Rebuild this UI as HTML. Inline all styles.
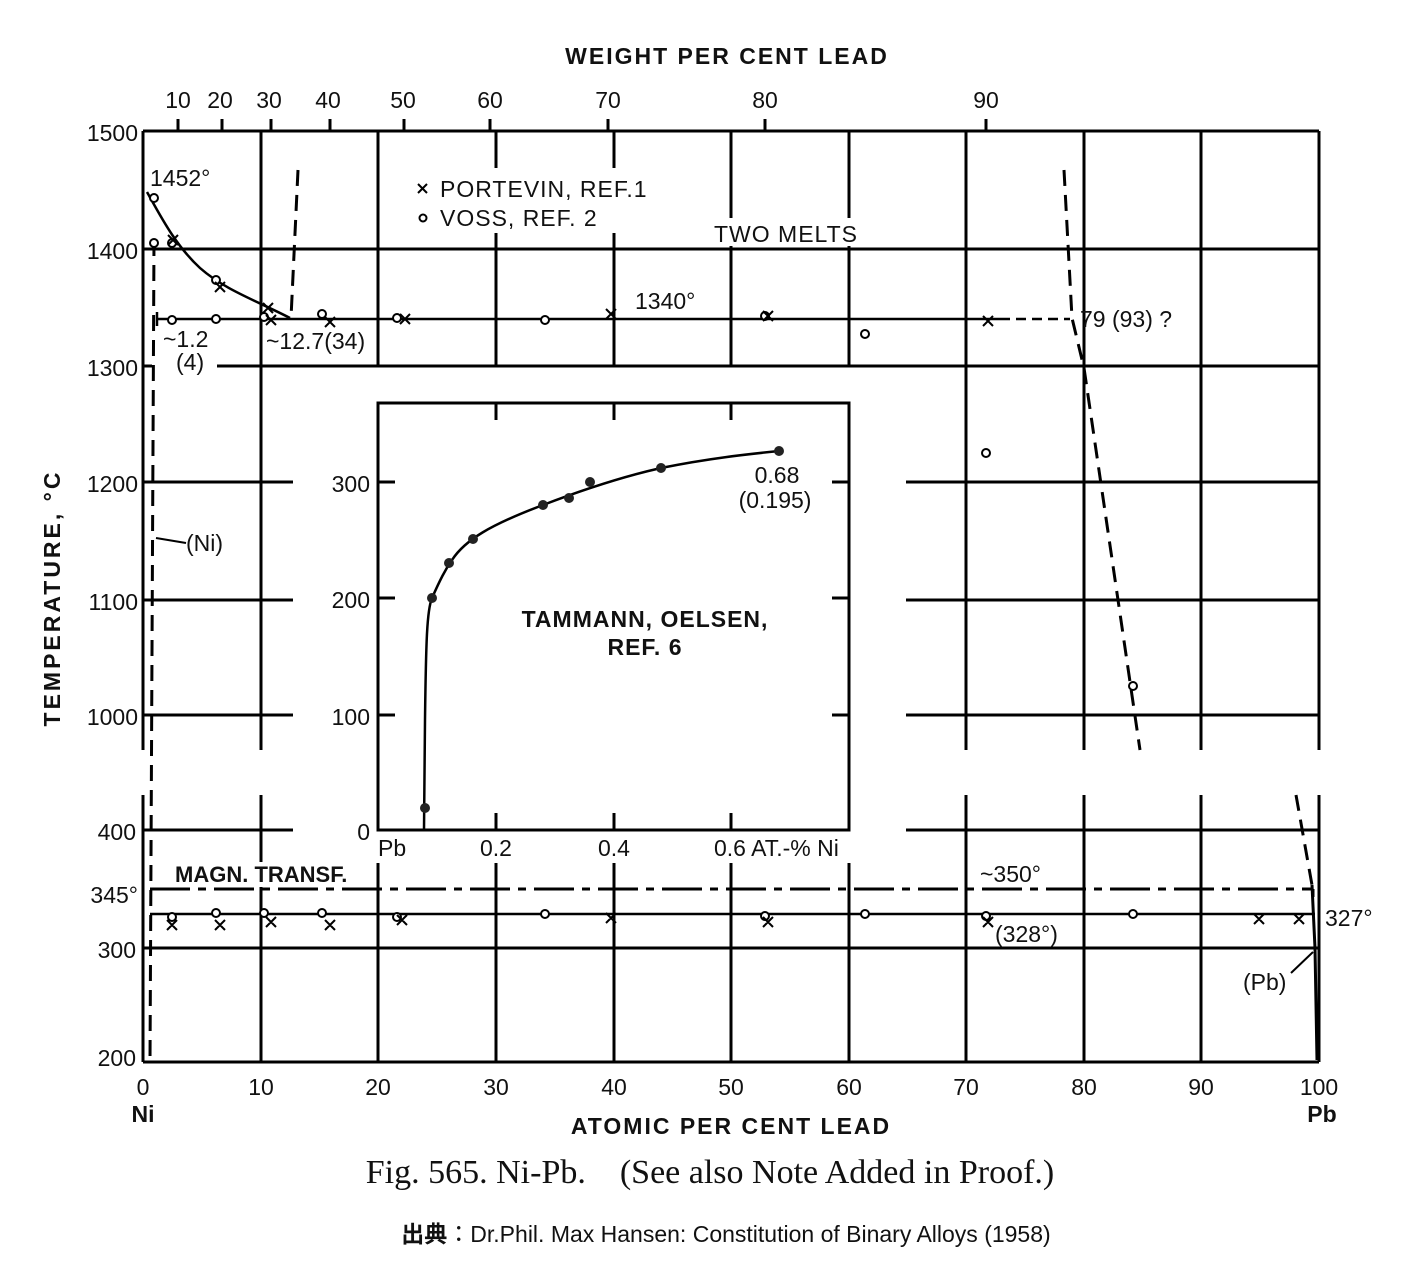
<!DOCTYPE html>
<html><head><meta charset="utf-8"><style>
html,body{margin:0;padding:0;background:#fff;}
svg{display:block;}
text{font-family:"Liberation Sans","DejaVu Sans",sans-serif;fill:#111;}
</style></head><body>
<svg width="1412" height="1282" viewBox="0 0 1412 1282" xmlns="http://www.w3.org/2000/svg">
<rect width="1412" height="1282" fill="#fff"/>
<g stroke="#000" stroke-width="3" fill="none">
<line x1="143" y1="131" x2="1319" y2="131"/>
<line x1="143" y1="249" x2="1319" y2="249"/>
<line x1="143" y1="366" x2="1319" y2="366"/>
<line x1="143" y1="482" x2="293" y2="482"/><line x1="906" y1="482" x2="1319" y2="482"/>
<line x1="143" y1="600" x2="293" y2="600"/><line x1="906" y1="600" x2="1319" y2="600"/>
<line x1="143" y1="715" x2="293" y2="715"/><line x1="906" y1="715" x2="1319" y2="715"/>
<line x1="143" y1="131" x2="143" y2="750"/>
<line x1="261" y1="131" x2="261" y2="750"/>
<line x1="378" y1="131" x2="378" y2="366"/>
<line x1="496" y1="131" x2="496" y2="366"/>
<line x1="614" y1="131" x2="614" y2="366"/>
<line x1="731" y1="131" x2="731" y2="366"/>
<line x1="849" y1="131" x2="849" y2="366"/>
<line x1="966" y1="131" x2="966" y2="750"/>
<line x1="1084" y1="131" x2="1084" y2="750"/>
<line x1="1201" y1="131" x2="1201" y2="750"/>
<line x1="1319" y1="131" x2="1319" y2="750"/>
<line x1="178" y1="119" x2="178" y2="131"/><line x1="222" y1="119" x2="222" y2="131"/>
<line x1="271" y1="119" x2="271" y2="131"/><line x1="330" y1="119" x2="330" y2="131"/>
<line x1="404" y1="119" x2="404" y2="131"/><line x1="490" y1="119" x2="490" y2="131"/>
<line x1="608" y1="119" x2="608" y2="131"/><line x1="765" y1="119" x2="765" y2="131"/>
<line x1="986" y1="119" x2="986" y2="131"/>
<line x1="143" y1="830" x2="293" y2="830"/><line x1="906" y1="830" x2="1319" y2="830"/>
<line x1="143" y1="948" x2="1319" y2="948"/>
<line x1="143" y1="1062" x2="1319" y2="1062"/>
<line x1="143" y1="795" x2="143" y2="1062"/>
<line x1="261" y1="795" x2="261" y2="1062"/>
<line x1="378" y1="863" x2="378" y2="1062"/>
<line x1="496" y1="863" x2="496" y2="1062"/>
<line x1="614" y1="863" x2="614" y2="1062"/>
<line x1="731" y1="863" x2="731" y2="1062"/>
<line x1="849" y1="863" x2="849" y2="1062"/>
<line x1="966" y1="795" x2="966" y2="1062"/>
<line x1="1084" y1="795" x2="1084" y2="1062"/>
<line x1="1201" y1="795" x2="1201" y2="1062"/>
<line x1="1319" y1="795" x2="1319" y2="1062"/>
</g>
<rect x="405" y="168" width="260" height="65" fill="#fff"/>
<rect x="708" y="218" width="160" height="28" fill="#fff"/>
<rect x="168" y="862" width="180" height="25" fill="#fff"/>
<rect x="152" y="352" width="65" height="24" fill="#fff"/>
<g stroke="#000" stroke-width="2.5" fill="none">
<path d="M147,192 C160,215 175,245 200,268 C225,290 255,300 290,318"/>
<line x1="157" y1="319" x2="1000" y2="319"/>
<line x1="1000" y1="319" x2="1070" y2="319" stroke-dasharray="10,6"/>
<line x1="157" y1="312" x2="157" y2="326"/>
</g>
<g stroke="#000" stroke-width="3" fill="none" stroke-dasharray="16,9">
<line x1="154" y1="240" x2="150" y2="1062"/>
<line x1="298" y1="170" x2="291" y2="318"/>
<polyline points="1064,170 1072,318 1084,368 1140,750"/>
<polyline points="1296,795 1312,885"/>
</g>
<path d="M1312,885 L1315,948 L1317,1060" stroke="#000" stroke-width="3" fill="none"/>
<line x1="150" y1="889" x2="1313" y2="889" stroke="#000" stroke-width="3" stroke-dasharray="40,8,8,8"/>
<line x1="1313" y1="889" x2="1313" y2="897" stroke="#000" stroke-width="3"/>
<line x1="150" y1="914" x2="1315" y2="914" stroke="#000" stroke-width="2.5"/>
<g stroke="#000" stroke-width="2" fill="#fff">
<circle cx="154" cy="198" r="4"/><circle cx="154" cy="243" r="4"/><circle cx="172" cy="243" r="4"/>
<circle cx="216" cy="280" r="4"/><circle cx="264" cy="317" r="4"/><circle cx="322" cy="314" r="4"/>
<circle cx="172" cy="320" r="4"/><circle cx="216" cy="319" r="4"/><circle cx="397" cy="318" r="4"/>
<circle cx="545" cy="320" r="4"/><circle cx="765" cy="316" r="4"/><circle cx="865" cy="334" r="4"/>
<circle cx="986" cy="453" r="4"/><circle cx="1133" cy="686" r="4"/>
<circle cx="172" cy="917" r="4"/><circle cx="216" cy="913" r="4"/><circle cx="264" cy="913" r="4"/>
<circle cx="322" cy="913" r="4"/><circle cx="397" cy="917" r="4"/><circle cx="545" cy="914" r="4"/>
<circle cx="765" cy="916" r="4"/><circle cx="865" cy="914" r="4"/><circle cx="986" cy="916" r="4"/><circle cx="1133" cy="914" r="4"/>
<circle cx="423" cy="218" r="3.5"/>
</g>
<g stroke="#000" stroke-width="2">
<path d="M168,235l10,10M178,235l-10,10 M215,282l10,10M225,282l-10,10 M263,303l10,10M273,303l-10,10 M266,315l10,10M276,315l-10,10 M325,317l10,10M335,317l-10,10 M400,314l10,10M410,314l-10,10 M606,309l10,10M616,309l-10,10 M763,311l10,10M773,311l-10,10 M983,316l10,10M993,316l-10,10 M167,920l10,10M177,920l-10,10 M215,920l10,10M225,920l-10,10 M266,917l10,10M276,917l-10,10 M325,920l10,10M335,920l-10,10 M397,915l10,10M407,915l-10,10 M606,913l10,10M616,913l-10,10 M763,917l10,10M773,917l-10,10 M983,917l10,10M993,917l-10,10 M1254,914l10,10M1264,914l-10,10 M1294,914l10,10M1304,914l-10,10 M418,184l9,9M427,184l-9,9"/>
</g>
<path d="M186,543 L156,538" stroke="#000" stroke-width="2"/>
<path d="M1291,973 L1313,952" stroke="#000" stroke-width="2"/>
<rect x="293" y="375" width="613" height="487" fill="#fff"/>
<line x1="261" y1="375" x2="261" y2="750" stroke="#000" stroke-width="3"/>
<line x1="966" y1="375" x2="966" y2="750" stroke="#000" stroke-width="3"/>
<rect x="378" y="403" width="471" height="427" fill="#fff" stroke="#000" stroke-width="3"/>
<g stroke="#000" stroke-width="3">
<line x1="496" y1="403" x2="496" y2="420"/><line x1="614" y1="403" x2="614" y2="420"/><line x1="731" y1="403" x2="731" y2="420"/>
<line x1="496" y1="813" x2="496" y2="830"/><line x1="614" y1="813" x2="614" y2="830"/><line x1="731" y1="813" x2="731" y2="830"/>
<line x1="378" y1="482" x2="395" y2="482"/><line x1="378" y1="598" x2="395" y2="598"/><line x1="378" y1="715" x2="395" y2="715"/>
<line x1="832" y1="482" x2="849" y2="482"/><line x1="832" y1="598" x2="849" y2="598"/><line x1="832" y1="715" x2="849" y2="715"/>
</g>
<path d="M424,830 L425,720 C426,640 427,610 432,598 C440,580 445,570 452,560 C465,540 490,525 543,505 C590,487 630,475 661,468 C710,458 750,454 779,451" stroke="#000" stroke-width="2.5" fill="none"/>
<g fill="#222">
<circle cx="425" cy="808" r="5"/><circle cx="432" cy="598" r="5"/><circle cx="449" cy="563" r="5"/>
<circle cx="473" cy="539" r="5"/><circle cx="543" cy="505" r="5"/><circle cx="569" cy="498" r="5"/>
<circle cx="590" cy="482" r="5"/><circle cx="661" cy="468" r="5"/><circle cx="779" cy="451" r="5"/>
</g>
<g font-size="23">
<text x="727" y="64" text-anchor="middle" font-weight="bold" letter-spacing="2">WEIGHT PER CENT LEAD</text>
<text x="178" y="108" text-anchor="middle">10</text><text x="220" y="108" text-anchor="middle">20</text>
<text x="269" y="108" text-anchor="middle">30</text><text x="328" y="108" text-anchor="middle">40</text>
<text x="403" y="108" text-anchor="middle">50</text><text x="490" y="108" text-anchor="middle">60</text>
<text x="608" y="108" text-anchor="middle">70</text><text x="765" y="108" text-anchor="middle">80</text>
<text x="986" y="108" text-anchor="middle">90</text>
<g text-anchor="end">
<text x="138" y="141">1500</text><text x="138" y="259">1400</text><text x="138" y="376">1300</text>
<text x="138" y="492">1200</text><text x="138" y="610">1100</text><text x="138" y="725">1000</text>
<text x="136" y="840">400</text><text x="138" y="903">345°</text><text x="136" y="958">300</text><text x="136" y="1066">200</text>
<text x="370" y="492">300</text><text x="370" y="608">200</text><text x="370" y="725">100</text><text x="370" y="840">0</text>
</g>
<text x="143" y="1095" text-anchor="middle">0</text><text x="261" y="1095" text-anchor="middle">10</text>
<text x="378" y="1095" text-anchor="middle">20</text><text x="496" y="1095" text-anchor="middle">30</text>
<text x="614" y="1095" text-anchor="middle">40</text><text x="731" y="1095" text-anchor="middle">50</text>
<text x="849" y="1095" text-anchor="middle">60</text><text x="966" y="1095" text-anchor="middle">70</text>
<text x="1084" y="1095" text-anchor="middle">80</text><text x="1201" y="1095" text-anchor="middle">90</text>
<text x="1319" y="1095" text-anchor="middle">100</text>
<text x="143" y="1122" text-anchor="middle" font-weight="bold">Ni</text>
<text x="1322" y="1122" text-anchor="middle" font-weight="bold">Pb</text>
<text x="731" y="1134" text-anchor="middle" font-weight="bold" letter-spacing="2">ATOMIC PER CENT LEAD</text>
<text x="60" y="598" text-anchor="middle" font-weight="bold" letter-spacing="3" transform="rotate(-90 60 598)">TEMPERATURE, °C</text>
<text x="150" y="186">1452°</text>
<text x="440" y="197" letter-spacing="1">PORTEVIN, REF.1</text>
<text x="440" y="226" letter-spacing="1">VOSS,  REF. 2</text>
<text x="714" y="242" letter-spacing="1">TWO MELTS</text>
<text x="635" y="309">1340°</text>
<text x="163" y="347">~1.2</text>
<text x="176" y="370">(4)</text>
<text x="266" y="349">~12.7(34)</text>
<text x="1080" y="327">79 (93)  ?</text>
<text x="186" y="551">(Ni)</text>
<text x="175" y="882" font-weight="bold" font-size="22">MAGN. TRANSF.</text>
<text x="980" y="882">~350°</text>
<text x="995" y="942">(328°)</text>
<text x="1325" y="926">327°</text>
<text x="1243" y="990">(Pb)</text>
<text x="378" y="856">Pb</text><text x="496" y="856" text-anchor="middle">0.2</text>
<text x="614" y="856" text-anchor="middle">0.4</text><text x="714" y="856">0.6 AT.-% Ni</text>
<text x="645" y="627" text-anchor="middle" font-weight="bold" letter-spacing="1">TAMMANN, OELSEN,</text>
<text x="645" y="655" text-anchor="middle" font-weight="bold" letter-spacing="1">REF. 6</text>
<text x="777" y="483" text-anchor="middle">0.68</text>
<text x="775" y="508" text-anchor="middle">(0.195)</text>
</g>
<text x="710" y="1183" text-anchor="middle" font-size="34" style="font-family:'Liberation Serif',serif">Fig. 565. Ni-Pb. &#160;&#160;&#160;(See also Note Added in Proof.)</text>
<text x="726" y="1242" text-anchor="middle" font-size="23" style="font-family:'Liberation Sans','Noto Sans CJK JP',sans-serif"><tspan font-weight="bold">出典</tspan>：Dr.Phil. Max Hansen: Constitution of Binary Alloys (1958)</text>
</svg>
</body></html>
